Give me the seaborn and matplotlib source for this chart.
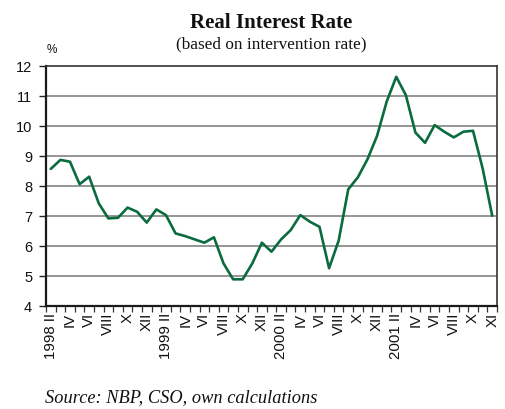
import matplotlib
matplotlib.use("Agg")
import matplotlib.pyplot as plt
import seaborn as sns
import pandas as pd
import numpy as np

# Monthly real interest rate, Feb 1998 - Dec 2001 (%)
rate = [8.57, 8.87, 8.81, 8.06, 8.31, 7.42, 6.92, 6.94, 7.28, 7.14, 6.78, 7.22,
        7.03, 6.42, 6.33, 6.22, 6.11, 6.29, 5.42, 4.89, 4.89, 5.42, 6.11, 5.81,
        6.22, 6.53, 7.03, 6.81, 6.64, 5.26, 6.18, 7.89, 8.29, 8.89, 9.67, 10.81,
        11.64, 11.03, 9.78, 9.44, 10.03, 9.81, 9.62, 9.81, 9.84, 8.59, 7.01]

# Axis labels shown on every second month
tick_labels = ["1998 II", "IV", "VI", "VIII", "X", "XII",
               "1999 II", "IV", "VI", "VIII", "X", "XII",
               "2000 II", "IV", "VI", "VIII", "X", "XII",
               "2001 II", "IV", "VI", "VIII", "X", "XI"]

y_ticks = [4, 5, 6, 7, 8, 9, 10, 11, 12]

df = pd.DataFrame({"month": np.arange(len(rate)), "rate": rate})

sns.set_theme(style="white")
plt.rcParams["font.family"] = ["Liberation Sans", "DejaVu Sans"]

fig = plt.figure(figsize=(5.06, 4.09), dpi=100)
ax = fig.add_axes([46 / 506, 1 - 306 / 409, 451 / 506, 240 / 409])

for v in y_ticks[1:-1]:
    ax.axhline(v, color="#8c8c8c", lw=1.3, zorder=1)

sns.lineplot(data=df, x="month", y="rate", ax=ax, color="#0a6b3e", lw=1.9, zorder=3)

ax.set_xlim(-0.5, len(rate) - 0.5)
ax.set_ylim(4, 12)
ax.set_yticks(y_ticks)
ax.set_yticklabels([str(v) for v in y_ticks], fontsize=10.5, color="#111111")
ax.tick_params(axis="y", which="major", direction="out", length=5, width=1.0,
               color="#222222", left=True, pad=5)

ax.set_xticks(np.arange(0, len(rate), 2))
ax.set_xticklabels(tick_labels, rotation=90, fontsize=10.8, color="#111111",
                   va="top", ha="center")
ax.set_xticks(np.arange(len(rate) + 1) - 0.5, minor=True)
ax.tick_params(axis="x", which="major", length=0, pad=5)
ax.tick_params(axis="x", which="minor", direction="out", length=4, width=0.9,
               color="#333333", bottom=True)

ax.set_xlabel("")
ax.set_ylabel("")

for side in ["left", "bottom"]:
    ax.spines[side].set_color("#1a1a1a")
    ax.spines[side].set_linewidth(1.6)
for side in ["top", "right"]:
    ax.spines[side].set_color("#333333")
    ax.spines[side].set_linewidth(1.2)

fig.text(47 / 506, 1 - 50 / 409, "%", fontsize=8.5, ha="left", va="center",
         color="#111111")

fig.text(271 / 506, 1 - 23 / 409, "Real Interest Rate", fontsize=15,
         fontweight="bold", family="Liberation Serif", ha="center", va="center",
         color="#111111")
fig.text(271 / 506, 1 - 44 / 409, "(based on intervention rate)", fontsize=12.4,
         family="Liberation Serif", ha="center", va="center", color="#111111")

fig.text(45 / 506, 1 - 398 / 409, "Source: NBP, CSO, own calculations",
         fontsize=13.2, style="italic", family="Liberation Serif", ha="left",
         va="center", color="#111111")

fig.savefig("out.png", dpi=100)
